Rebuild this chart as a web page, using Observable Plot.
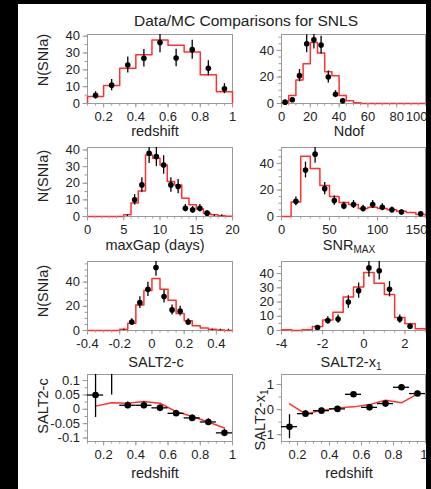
<!DOCTYPE html>
<html><head><meta charset="utf-8">
<script src="https://cdn.jsdelivr.net/npm/d3@7"></script>
<script src="https://cdn.jsdelivr.net/npm/@observablehq/plot@0.6"></script>
<style>
html,body{margin:0;padding:0;background:#000;width:431px;height:489px;overflow:hidden;}
#page{position:absolute;left:18px;top:4px;width:408px;height:485px;background:#fff;overflow:hidden;font-family:"Liberation Sans",Arial,sans-serif;color:#222;}
.lbl{position:absolute;white-space:nowrap;font-size:14.5px;line-height:1;transform:translate(-50%,-50%);}
.rot{transform:translate(-50%,-50%) rotate(-90deg);}
.lbl sub{font-size:10px;vertical-align:-3px;line-height:0;}
</style></head><body><div id="page"></div>
<script>
// ---------- data ----------
// redshift histogram (bin lower edges, width 0.1)
const zLo = [0.1,0.2,0.3,0.4,0.5,0.6,0.7,0.8,0.9];
const zMC = [4.2,10.7,20.9,29,37.8,34.6,30.6,17.1,7];
const zData = [4.8,10.9,22.9,26.9,36.2,27,32,20.9,8.8];
// Ndof histogram (width 5)
const ndofLo = [0,5,10,15,20,25,30,35,40,45,50,55,60,65,70,75,80,85,90,95];
const ndofMC = [0.5,6,17.7,30,46,38,24,21,6,2,0.5,0,0,0,0,0,0,0,0,0];
const ndofData = [1,2.8,21,45,48,44,20,7,2,null,null,null,null,null,null,null,null,null,null,null];
// maxGap histogram (width 1)
const gapLo = [0,1,2,3,4,5,6,7,8,9,10,11,12,13,14,15,16,17,18,19];
const gapMC = [0,0,0,0,0,1,8.1,15.4,37,35,31,21,19,11,7,4.5,2,1,0.5,0.2];
const gapData = [null,null,null,null,null,0,10,19,38,36,31,19,18,5,4,5,2,0,0,null];
// SNR_MAX histogram (width 10)
const snrLo = [0,10,20,30,40,50,60,70,80,90,100,110,120,130,140];
const snrMC = [0,10.9,45.5,36.2,23.3,15,10.6,9,6,7,6,5,4,3,1.5];
const snrData = [null,11.4,35,47,21,12,8,9,6,9,7,5,3.3,null,2];
// SALT2-c histogram (width 0.05)
const cLo = [-0.4,-0.35,-0.3,-0.25,-0.2,-0.15,-0.1,-0.05,0,0.05,0.1,0.15,0.2,0.25,0.3,0.35,0.4,0.45];
const cMC = [0,0,0,0,1,6,21,33,43,34,25,14,8,4,2,1,0.4,0];
const cData = [null,null,null,null,0,7,23,34,52,28,17,16,7,null,null,0,0,0];
// SALT2-x1 histogram (width 0.5)
const x1Lo = [-4,-3.5,-3,-2.5,-2,-1.5,-1,-0.5,0,0.5,1,1.5,2,2.5];
const x1MC = [0.5,0,0.5,2.8,7.3,12.9,23.6,30.6,40.7,33.2,25.3,9.1,4.7,1.2];
const x1Data = [null,null,null,2.1,7,8,20,28,44,42,29,8,3,null];
// profiles vs redshift
const zMid = [0.15,0.25,0.35,0.45,0.55,0.65,0.75,0.85,0.95];
const cVsZ = [0.0496,0.16,0.014,0.014,0.005,-0.014,-0.03,-0.044,-0.082];
const cVsZErr = [0.078,0.11,0.012,0.012,0.01,0.011,0.01,0.011,0.012];
const cVsZMC = [0.011,0.023,0.021,0.027,0.021,-0.008,-0.025,-0.044,-0.065];
const x1VsZ = [-0.68,-0.16,-0.04,0.03,0.61,0.09,0.24,0.89,0.64];
const x1VsZErr = [0.48,0.12,0.1,0.1,0.07,0.1,0.1,0.1,0.1];
const x1VsZMC = [0.23,-0.17,-0.03,0.07,0.11,0.2,0.37,0.27,0.63];
// tick labels
const zTicks = [0.2,0.4,0.6,0.8,1];
const ndofTicks = [0,20,40,60,80,100];
const gapTicks = [0,5,10,15,20];
const snrTicks = [0,50,100,150];
const cTicks = [-0.4,-0.2,0,0.2,0.4];
const x1Ticks = [-4,-2,0,2];
const n10Ticks = [0,10,20,30,40];
const n20Ticks = [0,20,40];
const cYTicks = [-0.1,-0.05,0,0.05,0.1];
const x1YTicks = [-1,0,1];

// ---------- helpers ----------
const RED = "#ff3030";
const FONT = '"Liberation Sans", Arial, sans-serif';
const page = document.getElementById("page");
const OX = 18, OY = 4;
const range = (a, b, s) => d3.range(Math.round((b - a) / s) + 1).map(i => +(a + i * s).toFixed(6));

function stepPts(lo, mc) {
  const w = lo[1] - lo[0];
  const p = [{x: lo[0], y: 0}];
  lo.forEach((e, i) => p.push({x: e, y: mc[i]}));
  p.push({x: +(lo[lo.length - 1] + w).toFixed(6), y: mc[mc.length - 1]});
  p.push({x: +(lo[lo.length - 1] + w).toFixed(6), y: 0});
  return p;
}
function dataPts(lo, vals) {
  const w = lo[1] - lo[0];
  return lo.map((e, i) => ({x: e + w / 2, y: vals[i]})).filter(d => d.y !== null);
}
function histMarks(lo, mc, vals, ymax) {
  const pts = dataPts(lo, vals);
  return [
    Plot.line(stepPts(lo, mc), {x: "x", y: "y", curve: "step-after", stroke: RED, strokeWidth: 1.5}),
    Plot.ruleX(pts, {x: "x", y1: d => Math.max(0, d.y - Math.sqrt(Math.max(d.y, 1))), y2: d => Math.min(ymax, d.y + Math.sqrt(Math.max(d.y, 1))), stroke: "#000", strokeWidth: 1.3}),
    Plot.dot(pts.filter(d => d.y > 0), {x: "x", y: "y", r: 2.8, fill: "#000"})
  ];
}
function profMarks(xs, vals, errs, mc, yd) {
  const pts = xs.map((x, i) => ({x, y: vals[i], e: errs[i], m: mc[i]}));
  const inside = pts.filter(d => d.y >= yd[0] && d.y <= yd[1]);
  return [
    Plot.line(pts, {x: "x", y: "m", stroke: RED, strokeWidth: 1.5}),
    Plot.ruleY(inside, {y: "y", x1: d => d.x - 0.05, x2: d => d.x + 0.05, stroke: "#000", strokeWidth: 1.3}),
    Plot.ruleX(pts, {x: "x", y1: d => Math.max(yd[0], d.y - d.e), y2: d => Math.min(yd[1], d.y + d.e), stroke: "#000", strokeWidth: 1.3}),
    Plot.dot(inside, {x: "x", y: "y", r: 3.3, fill: "#000"})
  ];
}
function panel(o) {
  const ml = 50, mr = 20, mt = 6, mb = 28;
  const w = o.fx1 - o.fx0, h = o.fy1 - o.fy0;
  const fmt = d => String(d);
  const xt = o.endAlign ? o.xt.slice(0, -1) : o.xt;
  const extra = o.endAlign ? [Plot.axisX({ticks: o.xt.slice(-1), tickSize: 4.5, tickPadding: 4, tickFormat: fmt, textAnchor: "end", dx: 2, stroke: "#9a9a9a", fill: "#222", fontSize: 13, label: null})] : [];
  const svg = Plot.plot({
    width: w + ml + mr, height: h + mt + mb,
    marginLeft: ml, marginRight: mr, marginTop: mt, marginBottom: mb,
    x: {domain: o.xd}, y: {domain: o.yd},
    style: {background: "transparent", fontFamily: FONT, fontSize: "13px", color: "#222", overflow: "visible"},
    marks: [
      Plot.frame({stroke: "#9a9a9a"}),
      ...o.marks,
      Plot.axisX({ticks: o.xMinor, tickSize: 2.5, tickFormat: () => "", stroke: "#9a9a9a", label: null}),
      Plot.axisX({ticks: xt, tickSize: 4.5, tickPadding: 4, tickFormat: fmt, stroke: "#9a9a9a", fill: "#222", fontSize: 13, label: null}),
      ...extra,
      Plot.axisY({ticks: o.yMinor, tickSize: 2.5, tickFormat: () => "", stroke: "#9a9a9a", label: null}),
      Plot.axisY({ticks: o.yt, tickSize: 4.5, tickPadding: 3, tickFormat: fmt, stroke: "#9a9a9a", fill: "#222", fontSize: 13, label: null})
    ]
  });
  svg.style.position = "absolute";
  svg.style.left = (o.fx0 - OX - ml) + "px";
  svg.style.top = (o.fy0 - OY - mt) + "px";
  page.appendChild(svg);
}
function label(html, cx, cy, rot, size) {
  const d = document.createElement("div");
  d.className = "lbl" + (rot ? " rot" : "");
  d.innerHTML = html;
  d.style.left = (cx - OX) + "px";
  d.style.top = (cy - OY) + "px";
  if (size) d.style.fontSize = size + "px";
  page.appendChild(d);
}

// ---------- layout ----------
const L = [87, 232], R = [281, 425];
const R1 = [34, 103], R2 = [147, 216], R3 = [261, 330], R4 = [374, 441];

panel({fx0: L[0], fx1: L[1], fy0: R1[0], fy1: R1[1], xd: [0.1, 1], yd: [0, 41], xt: zTicks, xMinor: range(0.1, 1, 0.05), yt: n10Ticks, yMinor: range(0, 40, 5), marks: histMarks(zLo, zMC, zData, 41)});
panel({fx0: R[0], fx1: R[1], fy0: R1[0], fy1: R1[1], xd: [0, 100], yd: [0, 52], xt: ndofTicks, endAlign: true, xMinor: range(0, 100, 5), yt: n20Ticks, yMinor: range(0, 50, 5), marks: histMarks(ndofLo, ndofMC, ndofData, 52)});
panel({fx0: L[0], fx1: L[1], fy0: R2[0], fy1: R2[1], xd: [0, 20], yd: [0, 41.5], xt: gapTicks, xMinor: range(0, 20, 1), yt: n10Ticks, yMinor: range(0, 40, 5), marks: histMarks(gapLo, gapMC, gapData, 41.5)});
panel({fx0: R[0], fx1: R[1], fy0: R2[0], fy1: R2[1], xd: [0, 150], yd: [0, 52], xt: snrTicks, endAlign: true, xMinor: range(0, 150, 10), yt: n20Ticks, yMinor: range(0, 50, 5), marks: histMarks(snrLo, snrMC, snrData, 52)});
panel({fx0: L[0], fx1: L[1], fy0: R3[0], fy1: R3[1], xd: [-0.4, 0.5], yd: [0, 57], xt: cTicks, xMinor: range(-0.4, 0.5, 0.05), yt: n20Ticks, yMinor: range(0, 55, 5), marks: histMarks(cLo, cMC, cData, 57)});
panel({fx0: R[0], fx1: R[1], fy0: R3[0], fy1: R3[1], xd: [-4, 3], yd: [0, 48.5], xt: x1Ticks, xMinor: range(-4, 3, 0.5), yt: n10Ticks, yMinor: range(0, 45, 5), marks: histMarks(x1Lo, x1MC, x1Data, 48.5)});
panel({fx0: L[0], fx1: L[1], fy0: R4[0], fy1: R4[1], xd: [0.1, 1], yd: [-0.112, 0.121], xt: zTicks, xMinor: range(0.1, 1, 0.05), yt: cYTicks, yMinor: range(-0.1, 0.1, 0.025), marks: profMarks(zMid, cVsZ, cVsZErr, cVsZMC, [-0.112, 0.121])});
panel({fx0: R[0], fx1: R[1], fy0: R4[0], fy1: R4[1], xd: [0.1, 1], yd: [-1.27, 1.4], xt: zTicks, endAlign: true, xMinor: range(0.1, 1, 0.05), yt: x1YTicks, yMinor: range(-1, 1, 0.5), marks: profMarks(zMid, x1VsZ, x1VsZErr, x1VsZMC, [-1.27, 1.4])});

// ---------- text ----------
label("Data/MC Comparisons for SNLS", 246, 20.5, false, 15.5);
label("N(SNIa)", 43, 60, true);
label("N(SNIa)", 43, 176, true);
label("N(SNIa)", 43, 291, true);
label("SALT2-c", 43, 406, true);
label("SALT2-x<sub>1</sub>", 260, 420, true);
label("redshift", 155, 131, false);
label("Ndof", 349, 131, false);
label("maxGap (days)", 155, 245, false);
label("SNR<sub>MAX</sub>", 349, 245, false);
label("SALT2-c", 156, 362, false);
label("SALT2-x<sub>1</sub>", 351, 362, false);
label("redshift", 155, 473, false);
label("redshift", 349, 473, false);
</script></body></html>
